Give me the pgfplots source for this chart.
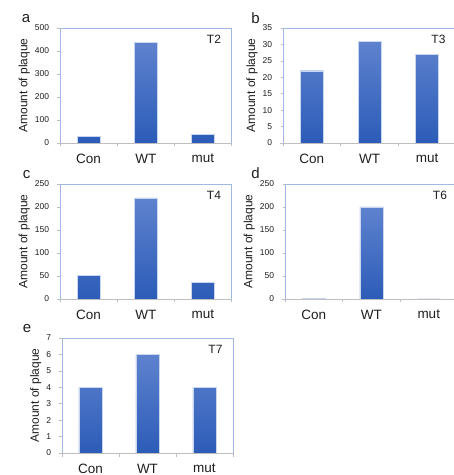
\documentclass[border=0pt]{standalone}
\usepackage{fontspec}
\setmainfont{Liberation Sans}
\usepackage{pgfplots}
\pgfplotsset{compat=1.18}
\definecolor{frameblue}{RGB}{160,184,226}
\definecolor{axgray}{RGB}{190,190,190}
\definecolor{bartop}{RGB}{94,130,206}
\definecolor{barbot}{RGB}{44,92,184}
\definecolor{baredge}{RGB}{200,214,240}
\definecolor{txt}{RGB}{30,30,30}
\pgfplotsset{
  panel/.style={
    scale only axis, height=115bp,
    xmin=-0.5, xmax=2.5, ymin=0,
    axis line style={frameblue, line width=0.6bp},
    xtick={0,1,2}, xticklabels={Con,WT,mut},
    major x tick style={draw=none},
    minor xtick={-0.5,0.5,1.5,2.5},
    minor x tick style={axgray, line width=0.6bp},
    minor tick length=3.5bp,
    tick align=outside,
    xtick pos=bottom, ytick pos=left,
    y tick style={axgray, line width=0.5bp},
    major tick length=2.5bp,
    /pgf/number format/assume math mode=true,
    x tick label style={font=\fontsize{13.5bp}{14bp}\selectfont, text=txt, yshift=-5bp},
    y tick label style={font=\fontsize{8.5bp}{9bp}\selectfont, text=txt, xshift=-5bp},
    ylabel={Amount of plaque},
    ylabel style={font=\fontsize{12bp}{13bp}\selectfont, text=txt, yshift=-2bp},
    title style={at={(rel axis cs:1,1)}, anchor=north east, xshift=-7bp, yshift=-9.5bp, font=\fontsize{12bp}{13bp}\selectfont, text=txt},
    after end axis/.code={\draw[axgray, line width=0.8bp] ([xshift=-3bp]rel axis cs:0,0) -- (rel axis cs:1,0);},
  },
  bars/.style={ybar, bar width=23bp, top color=bartop, bottom color=barbot, draw=baredge, line width=0.4bp},
}
\begin{document}
\begin{tikzpicture}
\useasboundingbox (0,0) rectangle (454bp,475bp);
% a
\begin{axis}[panel, at={(60bp,332bp)}, anchor=south west, width=171.5bp, ymax=500, ytick distance=100, title={T2}]
\addplot[bars] coordinates {(0,29) (1,438) (2,38)};
\end{axis}
% b
\begin{axis}[panel, at={(283bp,332bp)}, anchor=south west, width=173bp, ymax=35, ytick distance=5, title={T3}]
\addplot[bars] coordinates {(0,22) (1,31) (2,27)};
\end{axis}
% c
\begin{axis}[panel, at={(60bp,176bp)}, anchor=south west, width=171.5bp, ymax=250, ytick distance=50, title={T4}]
\addplot[bars] coordinates {(0,52) (1,220) (2,36)};
\end{axis}
% d
\begin{axis}[panel, at={(285bp,176bp)}, anchor=south west, width=172.5bp, ymax=250, ytick distance=50, title={T6}]
\addplot[bars] coordinates {(0,2) (1,200) (2,0)};
\end{axis}
% e
\begin{axis}[panel, at={(62bp,22bp)}, anchor=south west, width=171bp, ymax=7, ytick distance=1, title={T7}]
\addplot[bars] coordinates {(0,4) (1,6) (2,4)};
\end{axis}
\begin{scope}[every node/.style={font=\fontsize{15bp}{16bp}\selectfont, text=txt, inner sep=0pt}]
\node at (26bp,456bp) {a};
\node at (255.5bp,456.5bp) {b};
\node at (26.5bp,300bp) {c};
\node at (255.5bp,302bp) {d};
\node at (27bp,146bp) {e};
\end{scope}
\end{tikzpicture}
\end{document}
